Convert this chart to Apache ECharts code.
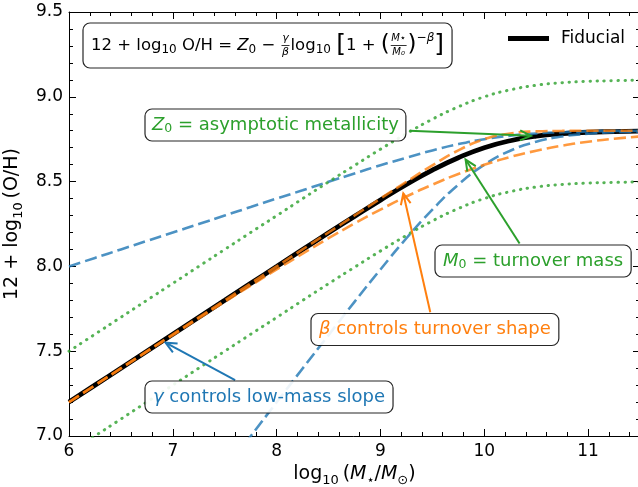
<!DOCTYPE html>
<html>
<head>
<meta charset="utf-8">
<script src="https://cdn.jsdelivr.net/npm/echarts@6/dist/echarts.min.js"></script>
<style>html,body{margin:0;padding:0;background:#fff}#chart{width:638px;height:487px}</style>
</head>
<body>
<div id="chart"></div>
<script>
// stellar mass grid, log10(M*/Msun)
const massGrid = [6.0, 6.25, 6.5, 6.75, 7.0, 7.25, 7.5, 7.75, 8.0, 8.25, 8.5, 8.75, 9.0, 9.25, 9.5, 9.75, 10.0, 10.25, 10.5, 10.75, 11.0, 11.25, 11.5]

// 12 + log10(O/H)
const fiducial = [7.200, 7.300, 7.400, 7.500, 7.600, 7.700, 7.800, 7.900, 7.999, 8.099, 8.198, 8.295, 8.391, 8.483, 8.568, 8.641, 8.700, 8.741, 8.768, 8.783, 8.791, 8.795, 8.798]
const gammaLow = [8.000, 8.050, 8.100, 8.150, 8.200, 8.250, 8.300, 8.350, 8.400, 8.449, 8.499, 8.548, 8.596, 8.641, 8.684, 8.721, 8.750, 8.771, 8.784, 8.791, 8.796, 8.798, 8.799]
const gammaHigh = [5.600, 5.800, 6.000, 6.200, 6.400, 6.600, 6.800, 6.999, 7.199, 7.398, 7.595, 7.791, 7.982, 8.166, 8.335, 8.482, 8.599, 8.682, 8.735, 8.766, 8.782, 8.791, 8.795]
const betaHigh = [7.200, 7.300, 7.400, 7.500, 7.600, 7.700, 7.800, 7.900, 8.000, 8.100, 8.200, 8.300, 8.400, 8.499, 8.596, 8.684, 8.750, 8.784, 8.796, 8.799, 8.800, 8.800, 8.800]
const betaLow = [7.199, 7.298, 7.398, 7.497, 7.595, 7.694, 7.791, 7.887, 7.982, 8.075, 8.166, 8.253, 8.335, 8.412, 8.482, 8.545, 8.599, 8.645, 8.682, 8.712, 8.735, 8.753, 8.766]
const z0High = [7.500, 7.600, 7.700, 7.800, 7.900, 8.000, 8.100, 8.200, 8.299, 8.399, 8.498, 8.595, 8.691, 8.783, 8.868, 8.941, 9.000, 9.041, 9.068, 9.083, 9.091, 9.095, 9.098]
const z0Low = [6.900, 7.000, 7.100, 7.200, 7.300, 7.400, 7.500, 7.600, 7.699, 7.799, 7.898, 7.995, 8.091, 8.183, 8.268, 8.341, 8.400, 8.441, 8.468, 8.483, 8.491, 8.495, 8.498]

// annotation arrows: [from, to] in data coords
const arrowZ0 = [[9.28, 8.80], [10.45, 8.77]]
const arrowM0 = [[10.34, 8.135], [9.82, 8.63]]
const arrowBeta = [[9.48, 7.73], [9.22, 8.43]]
const arrowGamma = [[7.60, 7.33], [6.93, 7.55]]

const FAM = "'DejaVu Sans', sans-serif"
const BLUE = '#1f77b4', ORANGE = '#ff7f0e', GREEN = '#2ca02c'

const zip = ys => massGrid.map((x, i) => [x, ys[i]])

const dashed = (ys, color) => ({
  type: 'line', data: zip(ys), showSymbol: false, smooth: true, silent: true, z: 3,
  lineStyle: { color: color, width: 2.6, type: [12, 5], cap: 'butt' }
})
const dotted = (ys, color) => ({
  type: 'line', data: zip(ys), showSymbol: false, smooth: true, silent: true, z: 3,
  lineStyle: { color: color, width: 3, type: [0.4, 6.6], cap: 'round' }
})

// one axis per tick size, so major/minor ticks both point inward
const xAx = (pos, interval, len, labels) => ({
  type: 'value', min: 6, max: 11.5, interval: interval, position: pos,
  axisLine: { show: labels, onZero: false, lineStyle: { color: '#000', width: 1 } },
  axisTick: { show: true, inside: true, length: len, lineStyle: { color: '#000', width: 1 } },
  axisLabel: {
    show: labels && pos === 'bottom', color: '#000', fontSize: 17, fontFamily: FAM, margin: 7,
    showMaxLabel: false, formatter: v => Number.isInteger(v) ? String(v) : ''
  },
  splitLine: { show: false }
})
const yAx = (pos, interval, len, labels) => ({
  type: 'value', min: 7, max: 9.5, interval: interval, position: pos,
  axisLine: { show: labels, onZero: false, lineStyle: { color: '#000', width: 1 } },
  axisTick: { show: true, inside: true, length: len, lineStyle: { color: '#000', width: 1 } },
  axisLabel: {
    show: labels && pos === 'left', color: '#000', fontSize: 17, fontFamily: FAM, margin: 6,
    formatter: v => v.toFixed(1)
  },
  splitLine: { show: false }
})

const xAxes = [xAx('bottom', 1, 7, true), xAx('bottom', 0.2, 4, false), xAx('top', 1, 7, true), xAx('top', 0.2, 4, false)]
Object.assign(xAxes[0], {
  name: '{a|log}{s|10}{a|\u2009(}{i|M}{s|\u22c6}{a|/}{i|M}{s|\u2299}{a|)}',
  nameLocation: 'middle', nameGap: 22,
  nameTextStyle: {
    rich: {
      a: { fontSize: 19, fontFamily: FAM, color: '#000', lineHeight: 26 },
      i: { fontSize: 19, fontFamily: FAM, fontStyle: 'italic', color: '#000', lineHeight: 26 },
      s: { fontSize: 13, fontFamily: FAM, color: '#000', lineHeight: 14, verticalAlign: 'bottom' }
    }
  }
})
const yAxes = [yAx('left', 0.5, 7, true), yAx('left', 0.1, 4, false), yAx('right', 0.5, 7, true), yAx('right', 0.1, 4, false)]
Object.assign(yAxes[0], {
  name: '{a|12 + log}{s|10}{a|\u2009(O/H)}',
  nameLocation: 'middle', nameGap: 38, nameRotate: 90,
  nameTextStyle: {
    rich: {
      a: { fontSize: 19, fontFamily: FAM, color: '#000', lineHeight: 26 },
      s: { fontSize: 13, fontFamily: FAM, color: '#000', lineHeight: 14, verticalAlign: 'bottom' }
    }
  }
})

const option = {
  animation: false,
  backgroundColor: '#fff',
  grid: { left: 69, top: 12, width: 571, height: 424, containLabel: false, outerBoundsMode: 'none' },
  xAxis: xAxes,
  yAxis: yAxes,
  legend: {
    data: [{ name: 'Fiducial', icon: 'rect' }],
    left: 503, top: 25,
    itemWidth: 41, itemHeight: 5, itemGap: 0,
    textStyle: { fontSize: 17, fontFamily: FAM, color: '#000', padding: [0, 0, 0, 7] }
  },
  series: [
    {
      name: 'Fiducial', type: 'line', data: zip(fiducial), showSymbol: false, smooth: true, silent: true, z: 2,
      itemStyle: { color: '#000' },
      lineStyle: { color: '#000', width: 4.8 }
    },
    dashed(gammaLow, 'rgba(31,119,180,0.8)'),
    dashed(gammaHigh, 'rgba(31,119,180,0.8)'),
    dashed(betaHigh, 'rgba(255,127,14,0.8)'),
    dashed(betaLow, 'rgba(255,127,14,0.8)'),
    dotted(z0High, 'rgba(44,160,44,0.8)'),
    dotted(z0Low, 'rgba(44,160,44,0.8)')
  ]
}

const chart = echarts.init(document.getElementById('chart'))
chart.setOption(option)

// ---- annotations (boxes + arrows) ----
const ctx = document.createElement('canvas').getContext('2d')
const fontOf = p => (p.it ? 'italic ' : '') + p.s + 'px ' + FAM
const textW = (str, font) => { ctx.font = font; return ctx.measureText(str).width }

function labelBox (left, cy, h, pad, pieces, color) {
  let x = left + pad
  const kids = []
  pieces.forEach(p => {
    const f = fontOf(p)
    if (p.frac) {
      const w = Math.max(textW(p.frac[0], f), textW(p.frac[1], f)) + 3
      kids.push({ type: 'text', z: 61, silent: true, style: { text: p.frac[0], x: x + w / 2, y: cy - p.gap, font: f, fill: color, align: 'center', verticalAlign: 'middle' } })
      kids.push({ type: 'text', z: 61, silent: true, style: { text: p.frac[1], x: x + w / 2, y: cy + p.gap, font: f, fill: color, align: 'center', verticalAlign: 'middle' } })
      kids.push({ type: 'line', z: 61, silent: true, shape: { x1: x + 1, y1: cy, x2: x + w - 1, y2: cy }, style: { stroke: color, lineWidth: 0.8 } })
      x += w
    } else {
      kids.push({ type: 'text', z: 61, silent: true, style: { text: p.t, x: x, y: cy + (p.dy || 0), font: f, fill: color, align: 'left', verticalAlign: 'middle' } })
      x += textW(p.t, f)
    }
  })
  const box = {
    type: 'rect', z: 60, silent: true,
    shape: { x: left, y: cy - h / 2, width: x - left + pad, height: h, r: 7 },
    style: { fill: 'rgba(255,255,255,0.9)', stroke: 'rgba(0,0,0,0.85)', lineWidth: 1.2 }
  }
  return [box].concat(kids)
}

function arrow (pair, color) {
  const a = chart.convertToPixel({ gridIndex: 0 }, pair[0])
  const b = chart.convertToPixel({ gridIndex: 0 }, pair[1])
  const ang = Math.atan2(b[1] - a[1], b[0] - a[0])
  const hl = 11, hw = 5
  const bx = b[0] - hl * Math.cos(ang), by = b[1] - hl * Math.sin(ang)
  const nx = -Math.sin(ang) * hw, ny = Math.cos(ang) * hw
  return [
    { type: 'line', z: 50, silent: true, shape: { x1: a[0], y1: a[1], x2: b[0], y2: b[1] }, style: { stroke: color, lineWidth: 2 } },
    { type: 'polyline', z: 50, silent: true, shape: { points: [[bx + nx, by + ny], b, [bx - nx, by - ny]] }, style: { stroke: color, lineWidth: 2, fill: null } }
  ]
}

const M = 18, S = 12.5, F = 16.5
const graphics = [].concat(
  arrow(arrowZ0, GREEN), arrow(arrowM0, GREEN), arrow(arrowBeta, ORANGE), arrow(arrowGamma, BLUE),
  labelBox(83, 45.5, 45, 8, [
    { t: '12 + log', s: F }, { t: '10', s: 12, dy: 4 }, { t: ' O/H = ', s: F },
    { t: 'Z', s: F, it: 1 }, { t: '0', s: 12, dy: 4 }, { t: ' \u2212 ', s: F },
    { frac: ['\u03b3', '\u03b2'], s: 11, it: 1, gap: 7 },
    { t: 'log', s: F }, { t: '10', s: 12, dy: 4 }, { t: ' ', s: F },
    { t: '[', s: 25 }, { t: '1 + ', s: F }, { t: '(', s: 23 },
    { frac: ['M\u22c6', 'M\u2080'], s: 10, it: 1, gap: 7 },
    { t: ')', s: 23 }, { t: '\u2212', s: 12, dy: -8 }, { t: '\u03b2', s: 12, dy: -8, it: 1 },
    { t: ']', s: 25 }
  ], '#000'),
  labelBox(145, 125, 32, 7, [{ t: 'Z', s: M, it: 1 }, { t: '0', s: S, dy: 4 }, { t: ' = asymptotic metallicity', s: M }], GREEN),
  labelBox(435, 261, 32, 8, [{ t: 'M', s: M, it: 1 }, { t: '0', s: S, dy: 4 }, { t: ' = turnover mass', s: M }], GREEN),
  labelBox(311, 329.5, 32, 8, [{ t: '\u03b2', s: M, it: 1 }, { t: ' controls turnover shape', s: M }], ORANGE),
  labelBox(145, 397, 32, 8, [{ t: '\u03b3', s: M, it: 1 }, { t: ' controls low-mass slope', s: M }], BLUE)
)

chart.setOption({ graphic: { elements: graphics } })
</script>
</body>
</html>
